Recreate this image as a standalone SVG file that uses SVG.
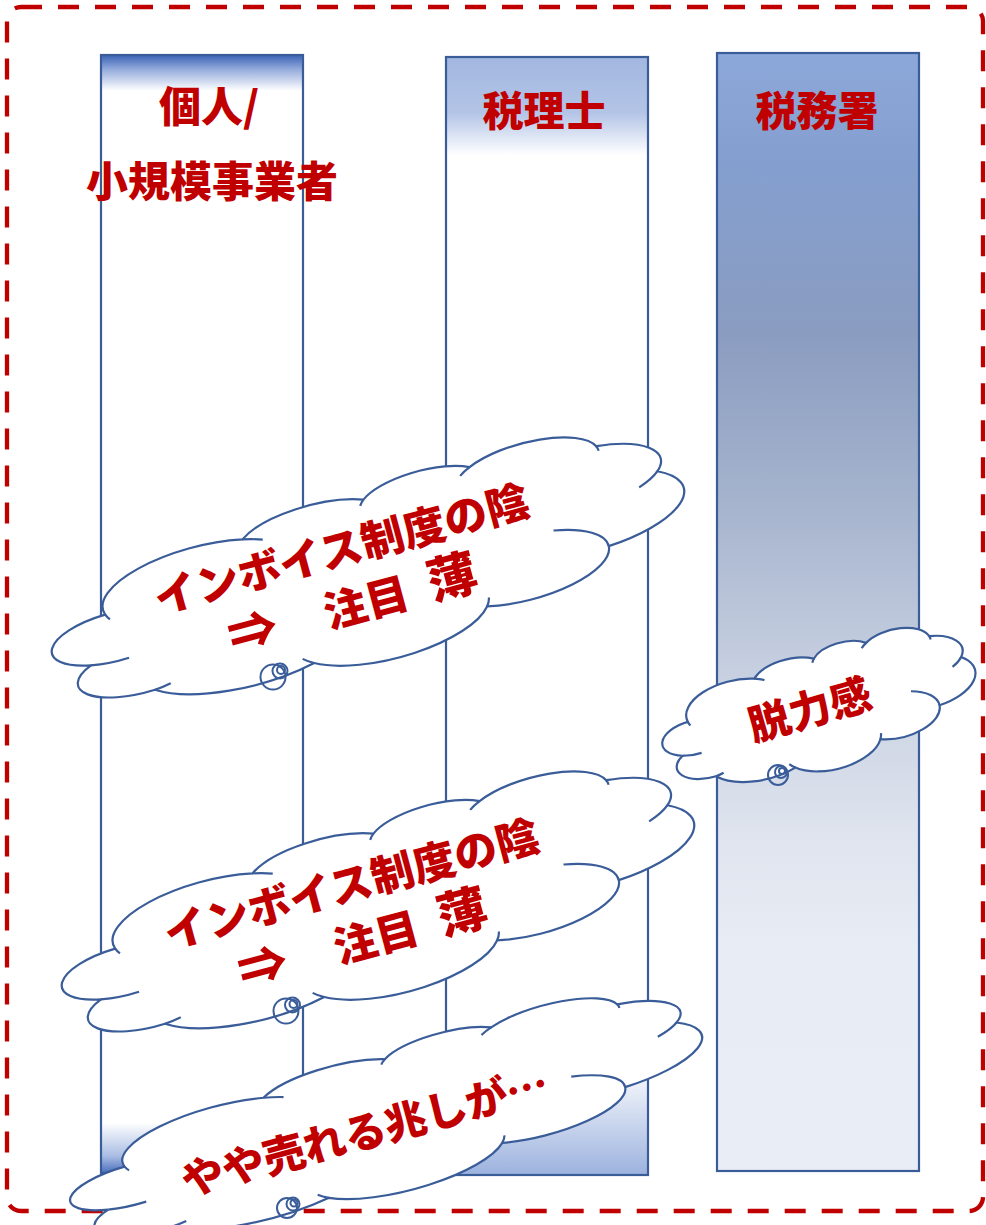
<svg xmlns="http://www.w3.org/2000/svg" width="986" height="1225" viewBox="0 0 986 1225">
<defs>
<linearGradient id="gCol1" x1="0" y1="0" x2="0" y2="1">
<stop offset="0" stop-color="#3a62b4"/>
<stop offset="0.012" stop-color="#8fa7da"/>
<stop offset="0.032" stop-color="#ffffff"/>
<stop offset="0.955" stop-color="#ffffff"/>
<stop offset="0.985" stop-color="#a9bce3"/>
<stop offset="1" stop-color="#4a6fbe"/>
</linearGradient>
<linearGradient id="gCol2" x1="0" y1="0" x2="0" y2="1">
<stop offset="0" stop-color="#a2b7e0"/>
<stop offset="0.05" stop-color="#b3c4e6"/>
<stop offset="0.088" stop-color="#ffffff"/>
<stop offset="0.9" stop-color="#ffffff"/>
<stop offset="1" stop-color="#9cb2de"/>
</linearGradient>
<linearGradient id="gCol3" x1="0" y1="0" x2="0" y2="1">
<stop offset="0" stop-color="#8ca7d9"/>
<stop offset="0.1" stop-color="#849fcf"/>
<stop offset="0.25" stop-color="#8a9cc0"/>
<stop offset="0.4" stop-color="#a5b3cd"/>
<stop offset="0.55" stop-color="#c6cfe0"/>
<stop offset="0.7" stop-color="#dfe4ee"/>
<stop offset="0.8" stop-color="#e8ecf5"/>
<stop offset="1" stop-color="#e9edf6"/>
</linearGradient>
<path id="cb" vector-effect="non-scaling-stroke" d="M90.3,332.6 A156.3,212.7 0 0 1 324.2,120.4 A123.4,168.2 0 0 1 519.9,79.5 A101,137.6 0 0 1 690.6,57.5 A112.4,152.7 0 0 1 887,129.1 A123.4,168.4 0 0 1 968.1,357.9 A156.8,213.4 0 0 1 865.9,699.2 A133.9,182.1 0 0 1 661.1,852.2 A156.3,213.3 0 0 1 381.6,909 A178.7,244.1 0 0 1 134.4,821.2 A100.9,137 0 0 1 49,591.4 A100.6,137.6 0 0 1 90.3,332.6 Z"/>
<path id="ci" vector-effect="non-scaling-stroke" d="M108.6,605.9 A100.6,137.6 0 0 1 49,591.4 M160.4,807.9 A100.9,137 0 0 1 134.4,821.2 M381.6,909 A156.3,213.3 0 0 1 366.1,868.8 M667.3,805.6 A156.3,213.3 0 0 1 661.1,852.2 M790,531.3 A133.9,182.1 0 0 1 865.9,699.2 M968.1,357.9 A123.4,168.4 0 0 1 934.5,419.9 M887,129.1 A112.4,152.7 0 0 1 888.8,158.4 M673.1,91.5 A112.4,152.7 0 0 1 690.6,57.5 M512.5,109.3 A101,137.6 0 0 1 519.9,79.5 M324.2,120.4 A156.3,212.7 0 0 1 354.3,151.6 M95.5,365.5 A156.3,212.7 0 0 1 90.3,332.6"/>
</defs>
<style>
.frame{fill:none;stroke:#c00000;stroke-width:4.3;stroke-dasharray:21 16}
.col{stroke:#3a5d99;stroke-width:2.2}
.cloud{fill:#ffffff;stroke:#3a5d99;stroke-width:2.2}
.inner{fill:none;stroke:#3a5d99;stroke-width:2.2}
.tail{fill:none;stroke:#3a5d99;stroke-width:2}
.t{font-family:"Noto Sans CJK JP","Noto Sans CJK SC",sans-serif;font-weight:900;fill:#c00000}
</style>

<rect id="frame" class="frame" x="7" y="7" width="976" height="1204" rx="14"/>

<g id="col-kojin">
<rect class="col" x="101" y="55" width="202" height="1118" fill="url(#gCol1)"/>
<text class="t" x="159" y="122" font-size="42">個人/</text>
<text class="t" x="212" y="197" font-size="42" text-anchor="middle">小規模事業者</text>
</g>
<g id="col-zeirishi">
<rect class="col" x="446" y="57" width="202" height="1118" fill="url(#gCol2)"/>
<text class="t" x="544" y="126" font-size="41" text-anchor="middle">税理士</text>
</g>
<g id="col-zeimusho">
<rect class="col" x="717" y="53" width="202" height="1118" fill="url(#gCol3)"/>
<text class="t" x="817" y="126" font-size="41" text-anchor="middle">税務署</text>
</g>

<g id="cloud1">
<g transform="translate(370,574) rotate(-15) translate(-325,-87.5) scale(0.65,0.175)">
<use href="#cb" class="cloud"/>
<use href="#ci" class="inner"/>
</g>
<circle class="tail" cx="273" cy="677" r="12.5"/>
<circle class="tail" cx="280" cy="671" r="7.5"/>
<circle class="tail" cx="281" cy="670" r="4"/>
<g class="t" font-size="43" transform="translate(341.5,549) rotate(-15)">
<text x="0" y="16" text-anchor="middle">インボイス制度の陰</text>
<text y="74" text-anchor="middle"><tspan x="-107" font-size="50">⇒</tspan><tspan x="10">注目</tspan><tspan x="100" font-size="50">薄</tspan></text>
</g>
</g>

<g id="cloud2">
<g transform="translate(380,908) rotate(-15) translate(-325,-87.5) scale(0.65,0.175)">
<use href="#cb" class="cloud"/>
<use href="#ci" class="inner"/>
</g>
<circle class="tail" cx="286" cy="1011" r="12.5"/>
<circle class="tail" cx="292.5" cy="1005" r="7.5"/>
<circle class="tail" cx="293.5" cy="1004" r="4"/>
<g class="t" font-size="43" transform="translate(351.5,884) rotate(-15)">
<text x="0" y="16" text-anchor="middle">インボイス制度の陰</text>
<text y="74" text-anchor="middle"><tspan x="-107" font-size="50">⇒</tspan><tspan x="10">注目</tspan><tspan x="100" font-size="50">薄</tspan></text>
</g>
</g>

<g id="cloud3">
<g transform="translate(388,1121) rotate(-15) translate(-325,-72) scale(0.65,0.144)">
<use href="#cb" class="cloud"/>
<use href="#ci" class="inner"/>
</g>
<circle class="tail" cx="287" cy="1208" r="10"/>
<circle class="tail" cx="293" cy="1204" r="6.5"/>
<circle class="tail" cx="294" cy="1203" r="3.5"/>
<g class="t" font-size="42" transform="translate(365,1132.5) rotate(-15.3)">
<text x="0" y="15" text-anchor="middle">やや売れる兆しが…</text>
</g>
</g>

<g id="cloud4">
<g transform="translate(820,710) rotate(-14) translate(-160,-61) scale(0.32,0.122)">
<use href="#cb" class="cloud"/>
<use href="#ci" class="inner"/>
</g>
<circle class="tail" cx="778" cy="775" r="10"/>
<circle class="tail" cx="781" cy="772" r="6"/>
<circle class="tail" cx="782" cy="771" r="3"/>
<g class="t" font-size="42" transform="translate(810,710) rotate(-16)">
<text x="0" y="15" text-anchor="middle">脱力感</text>
</g>
</g>
</svg>
